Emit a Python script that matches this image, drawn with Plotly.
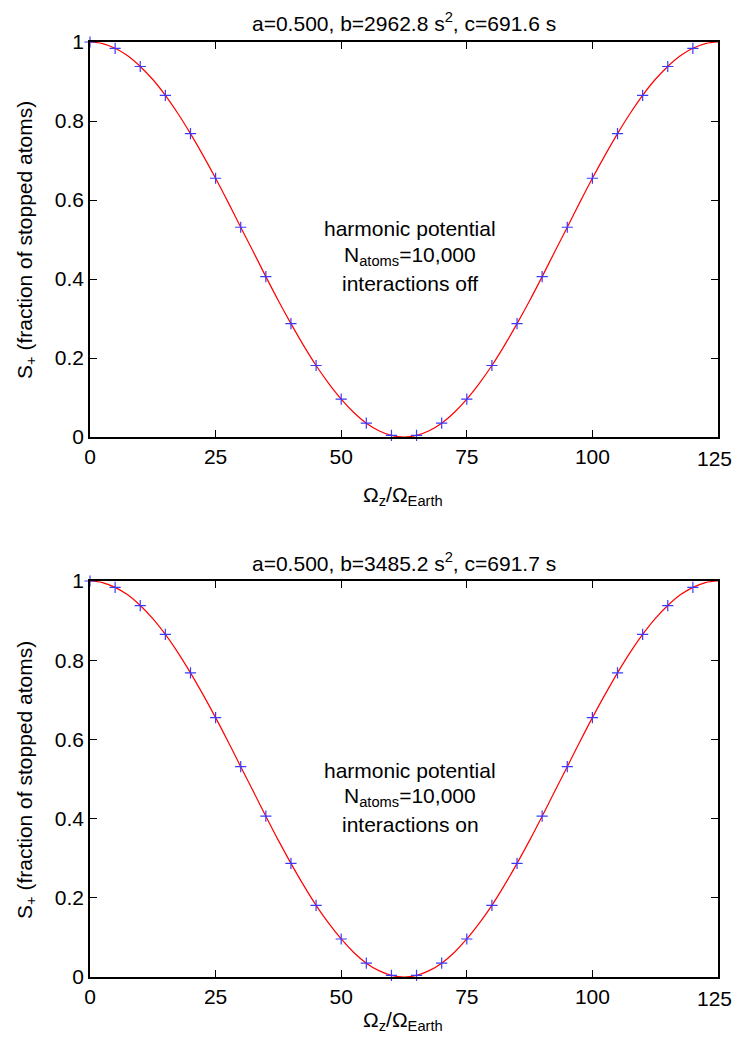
import plotly.graph_objects as go

# Data points (markers)
omega_pts = [0, 5, 10, 15, 20, 25, 30, 35, 40, 45, 50, 55, 60, 65, 70, 75, 80, 85, 90, 95, 100, 105, 110, 115, 120]
s_plus_off = [1.000, 0.984, 0.938, 0.865, 0.768, 0.655, 0.531, 0.406, 0.287, 0.181, 0.096, 0.035, 0.004,
              0.004, 0.035, 0.096, 0.181, 0.287, 0.406, 0.531, 0.655, 0.768, 0.865, 0.938, 0.984]
s_plus_on = [1.000, 0.984, 0.938, 0.865, 0.768, 0.655, 0.531, 0.406, 0.287, 0.181, 0.096, 0.035, 0.004,
             0.004, 0.035, 0.096, 0.181, 0.287, 0.406, 0.531, 0.655, 0.768, 0.865, 0.938, 0.984]

# Fit curves (red lines), read at steps of 2.5
omega_fit = [0, 2.5, 5, 7.5, 10, 12.5, 15, 17.5, 20, 22.5, 25, 27.5, 30, 32.5, 35, 37.5, 40, 42.5, 45, 47.5,
             50, 52.5, 55, 57.5, 60, 62.5, 65, 67.5, 70, 72.5, 75, 77.5, 80, 82.5, 85, 87.5, 90, 92.5, 95,
             97.5, 100, 102.5, 105, 107.5, 110, 112.5, 115, 117.5, 120, 122.5, 125]
fit_off = [1.000, 0.996, 0.984, 0.965, 0.938, 0.905, 0.865, 0.819, 0.768, 0.713, 0.655, 0.594, 0.531, 0.469,
           0.406, 0.345, 0.287, 0.232, 0.181, 0.136, 0.096, 0.062, 0.035, 0.016, 0.004, 0.000, 0.004, 0.016,
           0.035, 0.062, 0.096, 0.136, 0.181, 0.232, 0.287, 0.345, 0.406, 0.469, 0.531, 0.594, 0.655, 0.713,
           0.768, 0.819, 0.865, 0.905, 0.938, 0.965, 0.984, 0.996, 1.000]
fit_on = list(fit_off)

titles = ["a=0.500, b=2962.8 s<sup>2</sup>, c=691.6 s", "a=0.500, b=3485.2 s<sup>2</sup>, c=691.7 s"]
notes = [["harmonic potential", "N<sub>atoms</sub>=10,000", "interactions off"],
         ["harmonic potential", "N<sub>atoms</sub>=10,000", "interactions on"]]
x_title = "Ω<sub>z</sub>/Ω<sub>Earth</sub>"
y_title = "S<sub>+</sub> (fraction of stopped atoms)"
x_ticks = [0, 25, 50, 75, 100, 125]
x_tick_text = ["0", "25", "50", "75", "100", "125"]
y_ticks = [0, 0.2, 0.4, 0.6, 0.8, 1]
y_tick_text = ["0", "0.2", "0.4", "0.6", "0.8", "1"]

FONT = "Liberation Sans, Arial, sans-serif"
FS = 21
FST = 21

# page body has an 8px margin; keep the whole page inside the 742x1048 window
OFF = 8
W, H = 726, 1028
left_px, right_px = 90 - OFF, 718 - OFF
top_px, bot_px = 42 - OFF, 977 - OFF
ph = bot_px - top_px
pw = right_px - left_px

def fy(py):
    return (bot_px - (py - OFF)) / ph

def fx(px):
    return ((px - OFF) - left_px) / pw

fig = go.Figure()
series = [(s_plus_off, fit_off), (s_plus_on, fit_on)]
for i, (pts, fit) in enumerate(series):
    xa = "x" if i == 0 else "x2"
    ya = "y" if i == 0 else "y2"
    fig.add_trace(go.Scatter(x=omega_fit, y=fit, mode="lines", line=dict(color="#ff0000", width=1.2, shape="spline"),
                             xaxis=xa, yaxis=ya, showlegend=False, cliponaxis=False))
    fig.add_trace(go.Scatter(x=omega_pts, y=pts, mode="markers",
                             marker=dict(symbol="cross-thin", size=8, line=dict(color="#3a3aff", width=1.2)),
                             xaxis=xa, yaxis=ya, showlegend=False, cliponaxis=False))

axis_common = dict(showgrid=False, zeroline=False, showline=True, linecolor="black", linewidth=1.5,
                   mirror="allticks", ticks="inside", ticklen=7, tickwidth=1, tickcolor="black",
                   tickfont=dict(family=FONT, size=FST, color="black"))

# last x tick label would overflow the page edge: drawn separately, flush with the edge
xdef = dict(axis_common, range=[0, 125], tickvals=x_ticks, ticktext=x_tick_text[:-1] + [""])
ydef = dict(axis_common, range=[0, 1], tickvals=y_ticks, ticktext=y_tick_text)

annotations = []
title_y = [22, 562]
note_y = [[229, 256, 283], [770, 797, 824]]
xt_y = [496, 1021]
yt_y = [240, 780]
tick_y = [458, 998]
for i in range(2):
    annotations.append(dict(text=titles[i], xref="paper", yref="paper", x=fx(404), y=fy(title_y[i]),
                            showarrow=False, font=dict(family=FONT, size=FS, color="black"),
                            xanchor="center", yanchor="middle"))
    for j, t in enumerate(notes[i]):
        annotations.append(dict(text=t, xref="paper", yref="paper", x=fx(410), y=fy(note_y[i][j]),
                                showarrow=False, font=dict(family=FONT, size=FS, color="black"),
                                xanchor="center", yanchor="middle"))
    annotations.append(dict(text=x_title, xref="paper", yref="paper", x=fx(403), y=fy(xt_y[i]),
                            showarrow=False, font=dict(family=FONT, size=FS, color="black"),
                            xanchor="center", yanchor="middle"))
    annotations.append(dict(text=y_title, xref="paper", yref="paper", x=fx(26), y=fy(yt_y[i]),
                            showarrow=False, textangle=-90, font=dict(family=FONT, size=FS, color="black"),
                            xanchor="center", yanchor="middle"))
    annotations.append(dict(text=x_tick_text[-1], xref="paper", yref="paper", x=fx(733), y=fy(tick_y[i]),
                            showarrow=False, font=dict(family=FONT, size=FST, color="black"),
                            xanchor="right", yanchor="middle", borderpad=0))

fig.update_layout(
    width=W, height=H, autosize=False,
    margin=dict(l=left_px, r=W - right_px, t=top_px, b=H - bot_px),
    paper_bgcolor="white", plot_bgcolor="white",
    xaxis=dict(xdef, domain=[0, 1], anchor="y"),
    yaxis=dict(ydef, domain=[fy(437), 1], anchor="x"),
    xaxis2=dict(xdef, domain=[0, 1], anchor="y2"),
    yaxis2=dict(ydef, domain=[0, fy(581)], anchor="x2"),
    annotations=annotations,
)

fig.write_html("out.html", config={"displayModeBar": False})
